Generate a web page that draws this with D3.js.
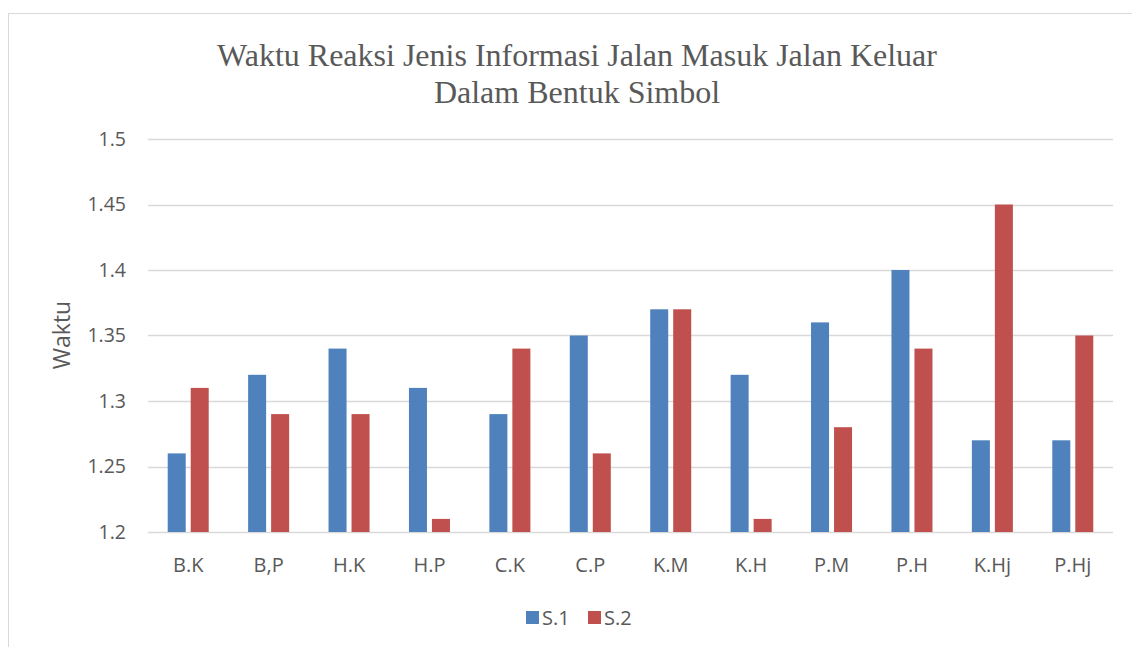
<!DOCTYPE html>
<html>
<head>
<meta charset="utf-8">
<script src="https://cdn.jsdelivr.net/npm/d3@7"></script>
<style>
  body { margin: 0; background: #fff; }
  svg { display: block; }
</style>
</head>
<body>
<div id="chart"></div>
<script>
var categories = ["B.K", "B,P", "H.K", "H.P", "C.K", "C.P", "K.M", "K.H", "P.M", "P.H", "K.Hj", "P.Hj"]
var seriesNames = ["S.1", "S.2"]
var s1 = [1.26, 1.32, 1.34, 1.31, 1.29, 1.35, 1.37, 1.32, 1.36, 1.40, 1.27, 1.27]
var s2 = [1.31, 1.29, 1.29, 1.21, 1.34, 1.26, 1.37, 1.21, 1.28, 1.34, 1.45, 1.35]
var yTicks = [1.2, 1.25, 1.3, 1.35, 1.4, 1.45, 1.5]
var colors = ["#4f81bd", "#c0504d"]

var width = 1132, height = 647
var font = "'Open Sans', sans-serif"

var svg = d3.select("#chart").append("svg")
    .attr("width", width)
    .attr("height", height)

// chart frame
svg.append("rect")
    .attr("x", 8.5).attr("y", 13.5)
    .attr("width", 1200).attr("height", 700)
    .attr("fill", "none")
    .attr("stroke", "#d9d9d9")

var x0 = d3.scaleBand()
    .domain(categories)
    .range([148, 1113])
    .paddingInner(0.49)
    .paddingOuter(0.245)

var x1 = d3.scaleBand()
    .domain(seriesNames)
    .range([0, x0.bandwidth()])
    .paddingInner(0.217)

var y = d3.scaleLinear()
    .domain([1.2, 1.5])
    .range([532, 139])

// gridlines
svg.append("g")
    .selectAll("line")
    .data(yTicks)
    .join("line")
      .attr("x1", 148).attr("x2", 1113)
      .attr("y1", d => Math.round(y(d)) + 0.5)
      .attr("y2", d => Math.round(y(d)) + 0.5)
      .attr("stroke", "#d9d9d9")
      .attr("stroke-width", 1.3)

// y tick labels
svg.append("g")
    .selectAll("text")
    .data(yTicks)
    .join("text")
      .attr("x", 126)
      .attr("y", d => y(d))
      .attr("dy", "0.35em")
      .attr("text-anchor", "end")
      .attr("font-family", font)
      .attr("font-size", 19.5)
      .attr("fill", "#595959")
      .text(d => d3.format("")(d))

var rows = categories.map((c, i) => ({cat: c, vals: [s1[i], s2[i]]}))

// bars
svg.append("g")
    .selectAll("g")
    .data(rows)
    .join("g")
      .attr("transform", d => "translate(" + x0(d.cat) + ",0)")
    .selectAll("rect")
    .data(d => d.vals.map((v, j) => ({name: seriesNames[j], v: v, j: j})))
    .join("rect")
      .attr("x", d => x1(d.name))
      .attr("width", x1.bandwidth())
      .attr("y", d => y(d.v))
      .attr("height", d => y(1.2) - y(d.v))
      .attr("fill", d => colors[d.j])

// category labels
svg.append("g")
    .selectAll("text")
    .data(categories)
    .join("text")
      .attr("x", d => x0(d) + x0.bandwidth() / 2)
      .attr("y", 565)
      .attr("dy", "0.35em")
      .attr("text-anchor", "middle")
      .attr("font-family", font)
      .attr("font-size", 20)
      .attr("fill", "#595959")
      .text(d => d)

// y axis title
svg.append("text")
    .attr("transform", "translate(62,335) rotate(-90)")
    .attr("dy", "0.35em")
    .attr("text-anchor", "middle")
    .attr("font-family", font)
    .attr("font-size", 23)
    .attr("fill", "#595959")
    .text("Waktu")

// title
var title = ["Waktu Reaksi Jenis Informasi Jalan Masuk Jalan Keluar", "Dalam Bentuk Simbol"]
svg.append("g")
    .selectAll("text")
    .data(title)
    .join("text")
      .attr("x", 577)
      .attr("y", (d, i) => 55 + i * 37)
      .attr("dy", "0.35em")
      .attr("text-anchor", "middle")
      .attr("font-family", "'Liberation Serif', 'Times New Roman', serif")
      .attr("font-size", 32)
      .attr("fill", "#595959")
      .text(d => d)

// legend
var legendX = [526, 588]
var legend = svg.append("g")
    .selectAll("g")
    .data(seriesNames)
    .join("g")
      .attr("transform", (d, i) => "translate(" + legendX[i] + ",611)")
legend.append("rect")
    .attr("width", 13).attr("height", 13)
    .attr("fill", (d, i) => colors[i])
legend.append("text")
    .attr("x", 16)
    .attr("y", 7)
    .attr("dy", "0.35em")
    .attr("font-family", font)
    .attr("font-size", 20)
    .attr("fill", "#595959")
    .text(d => d)
</script>
</body>
</html>
